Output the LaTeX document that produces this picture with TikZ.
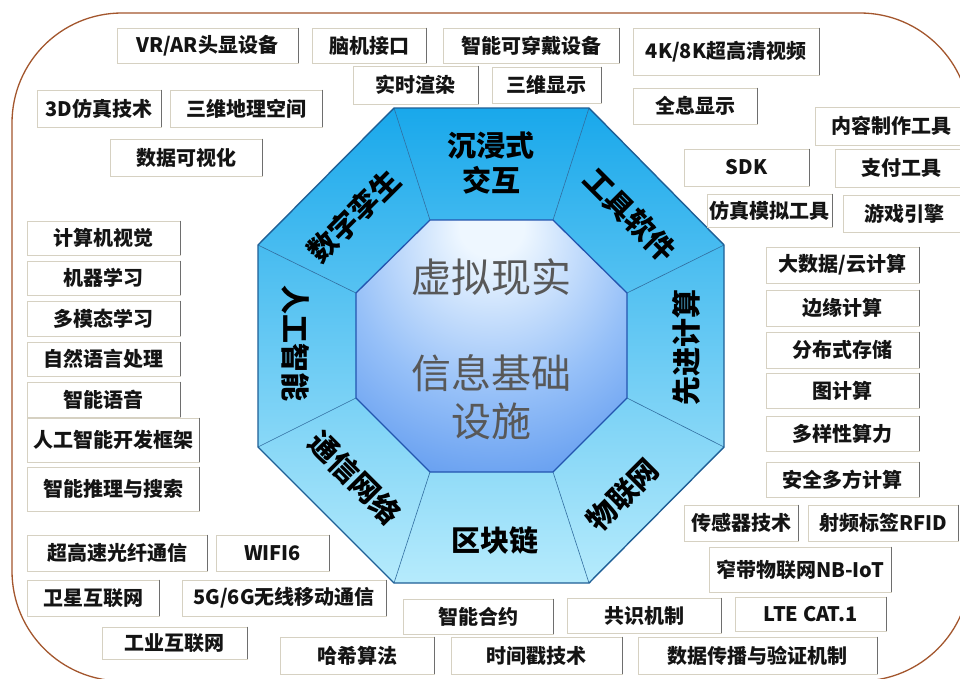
\documentclass[tikz,border=0pt]{standalone}
\usepackage{fontspec}
\setmainfont{Noto Sans CJK SC}
\definecolor{frameC}{RGB}{163,86,45}
\definecolor{segTop}{RGB}{25,168,235}
\definecolor{segBot}{RGB}{182,235,252}
\definecolor{outerLine}{RGB}{30,95,150}
\definecolor{divLine}{RGB}{50,110,160}
\definecolor{innerLine}{RGB}{35,85,175}
\definecolor{inA}{RGB}{238,247,255}
\definecolor{inB}{RGB}{150,192,248}
\definecolor{inC}{RGB}{78,142,236}
\definecolor{inD}{RGB}{58,122,226}
\definecolor{boxEdge}{RGB}{214,209,194}
\definecolor{boxShade}{RGB}{110,110,110}
\definecolor{txtC}{RGB}{20,20,20}
\definecolor{coreTxt}{RGB}{88,88,88}
\pgfdeclareradialshading{innerglow}{\pgfpoint{0bp}{26bp}}{color(0bp)=(inA); color(6bp)=(inA); color(26bp)=(inB); color(46bp)=(inC); color(70bp)=(inD)}
\newcommand\bx[6]{%
  \node[infobox,minimum width={(#4)-(#2)},minimum height={(#5)-(#3)}] (#1) at ({((#2)+(#4))/2},{((#3)+(#5))/2}) {#6};
  \draw[boxshadow] (#1.north east) -- (#1.south east);}
\begin{document}
\begin{tikzpicture}[x=1pt,y=-1pt,
  infobox/.style={draw=boxEdge, fill=white, line width=0.9pt, inner sep=0pt, text=txtC,
    font=\bfseries\fontsize{20}{22}\selectfont},
  boxshadow/.style={boxShade, line width=1.6pt},
  seglabel/.style={text=black, align=center, inner sep=0pt,
    font=\bfseries\fontsize{29}{35}\selectfont},
  coretext/.style={text=coreTxt, align=center, inner sep=0pt,
    font=\fontsize{40}{48}\selectfont},
  outerline/.style={outerLine, line width=1.4pt, line join=round},
  divline/.style={divLine, line width=0.6pt},
  innerline/.style={innerLine, line width=1.3pt, line join=round}]
\useasboundingbox (0,0) rectangle (960,678);
\fill[white] (0,0) rectangle (960,678);
% frame
\draw[frameC, line width=1.3pt, rounded corners=110pt] (12,13) rectangle (970,681);
% octagon coordinates
\coordinate (o1) at (394,108); \coordinate (o2) at (589,108);
\coordinate (o3) at (724,245); \coordinate (o4) at (724,447);
\coordinate (o5) at (589,583); \coordinate (o6) at (394,583);
\coordinate (o7) at (258,447); \coordinate (o8) at (258,245);
\coordinate (i1) at (430,220); \coordinate (i2) at (553,220);
\coordinate (i3) at (627,293); \coordinate (i4) at (627,398);
\coordinate (i5) at (553,472); \coordinate (i6) at (430,472);
\coordinate (i7) at (356,398); \coordinate (i8) at (356,293);
\shade[top color=segTop, bottom color=segBot] (o1)--(o2)--(o3)--(o4)--(o5)--(o6)--(o7)--(o8)--cycle;
\foreach \k in {1,...,8} \draw[divline] (o\k) -- (i\k);
\draw[outerline] (o1)--(o2)--(o3)--(o4)--(o5)--(o6)--(o7)--(o8)--cycle;
\shade[shading=innerglow] (i1)--(i2)--(i3)--(i4)--(i5)--(i6)--(i7)--(i8)--cycle;
\draw[innerline] (i1)--(i2)--(i3)--(i4)--(i5)--(i6)--(i7)--(i8)--cycle;
% core text
\node[coretext] (core1) at (491,277) {虚拟现实};
\node[coretext] (core2) at (491,397) {信息基础\\设施};
% segment labels
\node[seglabel] (s1) at (491,163) {沉浸式\\交互};
\node[seglabel, rotate=-45] (s2) at (630,215) {工具软件};
\node[seglabel, rotate=90] (s3) at (686,347) {先进计算};
\node[seglabel, rotate=45] (s4) at (623,495) {物联网};
\node[seglabel] (s5) at (495,540) {区块链};
\node[seglabel, rotate=-45] (s6) at (355,478) {通信网络};
\node[seglabel, rotate=-90] (s7) at (296,343) {人工智能};
\node[seglabel, rotate=45] (s8) at (354,216) {数字孪生};
% boxes
\bx{b1}{117}{28}{298}{63}{VR/AR头显设备}
\bx{b2}{312}{28}{426}{63}{脑机接口}
\bx{b3}{443}{28}{619}{63}{智能可穿戴设备}
\bx{b4}{353}{66}{478}{104}{实时渲染}
\bx{b5}{492}{67}{601}{103}{三维显示}
\bx{b6}{633}{28}{819}{75}{4K/8K超高清视频}
\bx{b7}{633}{88}{757}{124}{全息显示}
\bx{b8}{37}{90}{161}{127}{3D仿真技术}
\bx{b9}{170}{90}{322}{127}{三维地理空间}
\bx{b10}{110}{139}{262}{176}{数据可视化}
\bx{b11}{815}{107}{968}{145}{内容制作工具}
\bx{b12}{684}{149}{809}{186}{SDK}
\bx{b13}{835}{149}{968}{187}{支付工具}
\bx{b14}{707}{194}{832}{227}{仿真模拟工具}
\bx{b15}{843}{195}{966}{232}{游戏引擎}
\bx{b16}{27}{221}{180}{255}{计算机视觉}
\bx{b17}{27}{261}{180}{295}{机器学习}
\bx{b18}{27}{301}{180}{336}{多模态学习}
\bx{b19}{27}{342}{180}{376}{自然语言处理}
\bx{b20}{27}{382}{180}{417}{智能语音}
\bx{b21}{27}{418}{199}{462}{人工智能开发框架}
\bx{b22}{27}{467}{199}{511}{智能推理与搜索}
\bx{b23}{766}{247}{919}{283}{大数据/云计算}
\bx{b24}{766}{290}{919}{326}{边缘计算}
\bx{b25}{766}{332}{919}{368}{分布式存储}
\bx{b26}{766}{373}{919}{408}{图计算}
\bx{b27}{766}{416}{919}{451}{多样性算力}
\bx{b28}{766}{462}{919}{497}{安全多方计算}
\bx{b29}{684}{505}{798}{541}{传感器技术}
\bx{b30}{808}{505}{958}{541}{射频标签RFID}
\bx{b31}{709}{547}{891}{592}{窄带物联网NB-IoT}
\bx{b32}{735}{597}{886}{631}{LTE CAT.1}
\bx{b33}{403}{599}{553}{634}{智能合约}
\bx{b34}{567}{598}{721}{633}{共识机制}
\bx{b35}{280}{637}{434}{674}{哈希算法}
\bx{b36}{451}{637}{622}{674}{时间戳技术}
\bx{b37}{638}{637}{877}{674}{数据传播与验证机制}
\bx{b38}{27}{535}{207}{571}{超高速光纤通信}
\bx{b39}{216}{535}{329}{571}{WIFI6}
\bx{b40}{27}{580}{159}{616}{卫星互联网}
\bx{b41}{182}{580}{386}{616}{5G/6G无线移动通信}
\bx{b42}{102}{627}{247}{659}{工业互联网}
\end{tikzpicture}
\end{document}
